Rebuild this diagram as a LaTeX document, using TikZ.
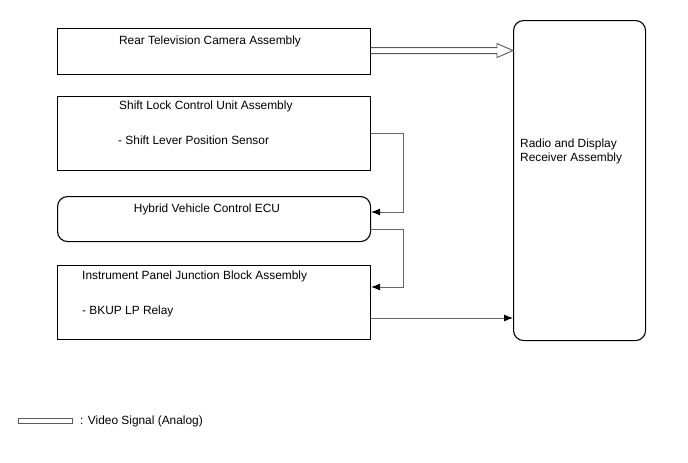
\documentclass[tikz,border=0pt]{standalone}
\usepackage{fontspec}
\setmainfont{Liberation Sans}
\usetikzlibrary{arrows.meta,calc}
\begin{document}
\begin{tikzpicture}[x=1pt,y=-1pt,
  box/.style={draw=black,line width=1.1pt,rectangle,inner sep=0pt,anchor=north west},
  rbox/.style={box,rounded corners=10pt},
  txt/.style={inner sep=0pt,font=\fontsize{11.9}{14}\selectfont},
  conn/.style={draw=black!60,line width=0.9pt,-{Latex[length=9pt,width=7pt,black]}},
  video/.style={draw=black!65,line width=0.9pt,fill=white}]
\useasboundingbox[fill=white] (0,0) rectangle (688,463);
% boxes
\node[box,minimum width=313pt,minimum height=46pt] (rtv) at (57,28) {};
\node[box,minimum width=313pt,minimum height=74pt] (slc) at (57,96) {};
\node[rbox,minimum width=313pt,minimum height=45pt] (hv) at (57,196) {};
\node[box,minimum width=313pt,minimum height=74pt] (ipj) at (57,265) {};
\node[rbox,minimum width=132pt,minimum height=320pt] (radio) at (513,20) {};
% texts
\node[txt] (t1) at (210,41) {Rear Television Camera Assembly};
\node[txt,anchor=west] (t2) at (119,106) {Shift Lock Control Unit Assembly};
\node[txt,anchor=west] (t3) at (118,140) {- Shift Lever Position Sensor};
\node[txt] (t4) at (207,209) {Hybrid Vehicle Control ECU};
\node[txt,anchor=west] (t5) at (82,276) {Instrument Panel Junction Block Assembly};
\node[txt,anchor=west] (t6) at (82,311) {- BKUP LP Relay};
\node[txt,anchor=west,align=left] (t7) at (520,151.5) {Radio and Display\\Receiver Assembly};
% video arrow
\coordinate (va) at ($(rtv.east)+(0,-1)$);
\coordinate (vb) at (va -| radio.west);
\draw[video] ($(va)+(0,-3)$) -- ($(vb)+(-16,-3)$) -- ($(vb)+(-16,-7)$) -- (vb)
  -- ($(vb)+(-16,7)$) -- ($(vb)+(-16,3)$) -- ($(va)+(0,3)$);
% connectors
\coordinate (c1) at ($(slc.north east)+(0,37)$);
\coordinate (c2) at ($(hv.north east)+(0,16)$);
\coordinate (c3) at ($(hv.north east)+(0,33)$);
\coordinate (c4) at ($(ipj.north east)+(0,22)$);
\coordinate (c5) at ($(ipj.north east)+(0,53)$);
\draw[conn] (c1) -- ++(32,0) |- (c2);
\draw[conn] (c3) -- ++(32,0) |- (c4);
\draw[conn] (c5) -- (c5 -| radio.west);
% legend
\node[draw=black!65,line width=0.9pt,rectangle,inner sep=0pt,minimum width=54pt,minimum height=5pt,anchor=west] (leg) at (18,421) {};
\node[txt,anchor=west] (legt) at (80,421) {: Video Signal (Analog)};
\end{tikzpicture}
\end{document}
